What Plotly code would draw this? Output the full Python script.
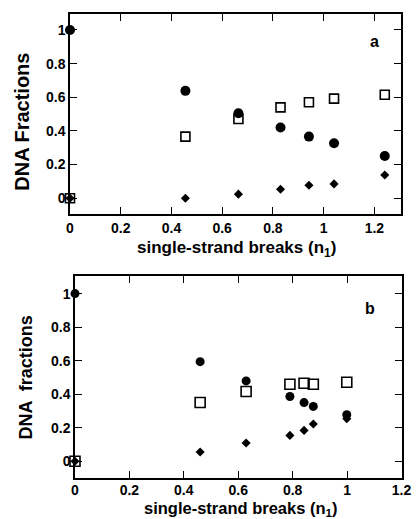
import plotly.graph_objects as go

# ---------------- data: panel a ----------------
a_circ_x = [0, 0.455, 0.664, 0.83, 0.942, 1.041, 1.241]
a_circ_y = [1.0, 0.638, 0.505, 0.42, 0.366, 0.327, 0.251]
a_sq_x = [0, 0.455, 0.664, 0.83, 0.942, 1.041, 1.241]
a_sq_y = [0.0, 0.366, 0.471, 0.54, 0.57, 0.592, 0.615]
a_dia_x = [0, 0.455, 0.664, 0.83, 0.942, 1.041, 1.241]
a_dia_y = [0.0, 0.0, 0.024, 0.053, 0.077, 0.085, 0.138]

# ---------------- data: panel b ----------------
b_circ_x = [0, 0.46, 0.629, 0.79, 0.842, 0.876, 0.999]
b_circ_y = [1.0, 0.594, 0.479, 0.386, 0.35, 0.327, 0.277]
b_sq_x = [0, 0.46, 0.629, 0.79, 0.842, 0.876, 0.999]
b_sq_y = [0.0, 0.35, 0.416, 0.459, 0.465, 0.459, 0.471]
b_dia_x = [0, 0.46, 0.629, 0.79, 0.842, 0.876, 0.999]
b_dia_y = [0.0, 0.055, 0.109, 0.154, 0.184, 0.222, 0.253]

# ---------------- tick labels ----------------
x_tick_vals = [0, 0.2, 0.4, 0.6, 0.8, 1.0, 1.2]
x_tick_text = ["0", "0.2", "0.4", "0.6", "0.8", "1", "1.2"]
y_tick_vals = [0, 0.2, 0.4, 0.6, 0.8, 1.0]
y_tick_text = ["0", "0.2", "0.4", "0.6", "0.8", "1"]

x_title = "single-strand breaks (n<sub>1</sub>)"
y_title_a = "DNA Fractions"
y_title_b = "DNA  fractions"

W, H = 417, 519
FONT = "Arial, Liberation Sans, Helvetica, sans-serif"

fig = go.Figure()

def add_panel(sx, sy, cx, cy, dx, dy, xa, ya, csize, sqsize):
    fig.add_trace(go.Scatter(x=sx, y=sy, mode="markers", xaxis=xa, yaxis=ya,
                             marker=dict(symbol="square-open", size=sqsize, color="black",
                                         line=dict(width=1.6, color="black")),
                             showlegend=False, cliponaxis=False))
    fig.add_trace(go.Scatter(x=cx, y=cy, mode="markers", xaxis=xa, yaxis=ya,
                             marker=dict(symbol="circle", size=csize, color="black"),
                             showlegend=False, cliponaxis=False))
    fig.add_trace(go.Scatter(x=dx, y=dy, mode="markers", xaxis=xa, yaxis=ya,
                             marker=dict(symbol="diamond", size=7, color="black"),
                             showlegend=False, cliponaxis=False))

add_panel(a_sq_x, a_sq_y, a_circ_x, a_circ_y, a_dia_x, a_dia_y, "x", "y", 10, 9)
add_panel(b_sq_x, b_sq_y, b_circ_x, b_circ_y, b_dia_x, b_dia_y, "x2", "y2", 9, 10)

bold = lambda s: "<b>" + s + "</b>"
tickfont = dict(family=FONT, size=14, color="black")
common = dict(showgrid=False, zeroline=False, showline=True, linecolor="black",
              linewidth=1.5, mirror="ticks", ticks="inside", ticklen=7,
              tickwidth=1.2, tickcolor="black", tickfont=tickfont, automargin=False,
              tickmode="array")
xt = dict(tickvals=x_tick_vals, ticktext=[bold(t) for t in x_tick_text])
yt = dict(tickvals=y_tick_vals, ticktext=[bold(t) for t in y_tick_text])

fig.update_layout(
    width=W, height=H,
    margin=dict(l=0, r=0, t=0, b=0),
    paper_bgcolor="white", plot_bgcolor="white",
    xaxis=dict(domain=[70 / W, 401 / W], range=[0, 1.305], anchor="y", **xt, **common),
    yaxis=dict(domain=[1 - 214 / H, 1 - 14 / H], range=[-0.094, 1.095], anchor="x",
               **yt, **common),
    xaxis2=dict(domain=[75 / W, 402 / W], range=[0, 1.202], anchor="y2",
                ticklabelstandoff=-2, **xt, **common),
    yaxis2=dict(domain=[1 - 478 / H, 1 - 276 / H], range=[-0.10, 1.105], anchor="x2",
                **yt, **common),
)

annots = [
    dict(text=bold(y_title_a), x=22 / W, y=1 - 121.7 / H, textangle=-90,
         font=dict(family=FONT, size=20, color="black")),
    dict(text=bold(x_title), x=236.7 / W, y=1 - 248.5 / H,
         font=dict(family=FONT, size=17, color="black")),
    dict(text=bold(y_title_b), x=25 / W, y=1 - 377.5 / H, textangle=-90,
         font=dict(family=FONT, size=18, color="black")),
    dict(text=bold(x_title), x=240 / W, y=1 - 508.5 / H,
         font=dict(family=FONT, size=16.5, color="black")),
]
for a in annots:
    fig.add_annotation(xref="paper", yref="paper", showarrow=False,
                       xanchor="center", yanchor="middle", **a)

fig.add_annotation(xref="x", yref="y", x=1.2, y=0.93, text=bold("a"), showarrow=False,
                   font=dict(family=FONT, size=16, color="black"))
fig.add_annotation(xref="x2", yref="y2", x=1.086, y=0.913, text=bold("b"), showarrow=False,
                   font=dict(family=FONT, size=16, color="black"))

fig.write_html("out.html", config={"displayModeBar": False},
               post_script="document.body.style.margin='0px';")
